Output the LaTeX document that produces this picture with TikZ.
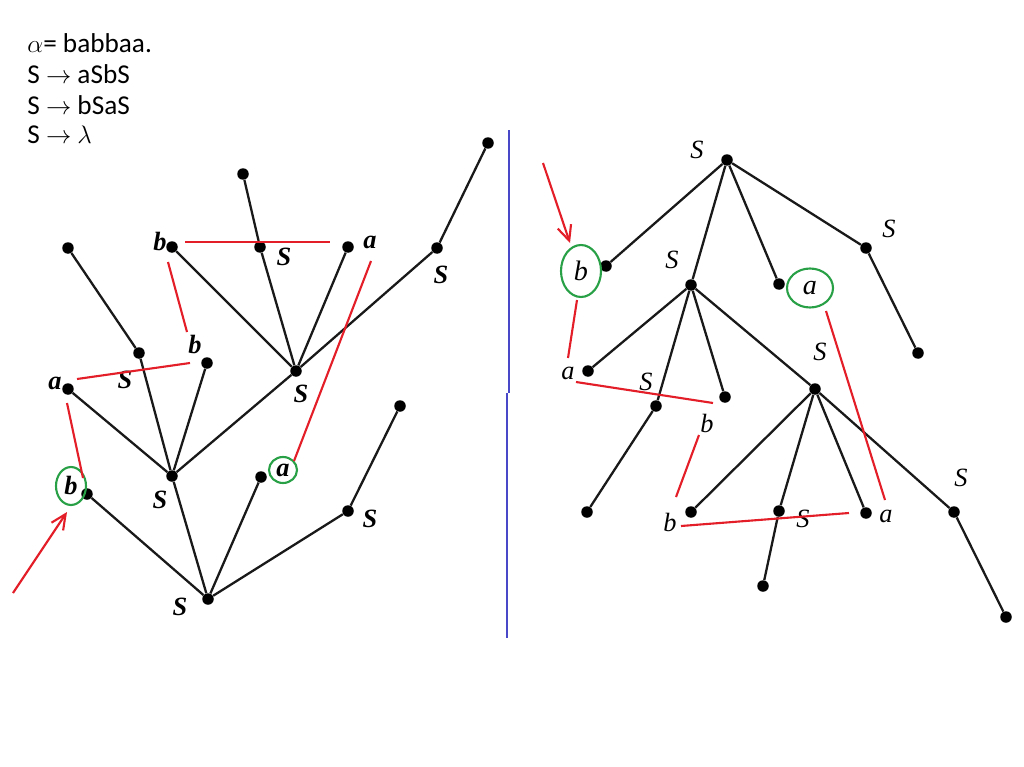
\documentclass[tikz,border=0pt]{standalone}
\usepackage{fontspec}
\setmainfont{Carlito}
\newfontfamily\tnr{Liberation Serif}
\usetikzlibrary{shapes.geometric,arrows.meta}
\definecolor{myred}{RGB}{228,30,40}
\definecolor{mygreen}{RGB}{40,160,70}
\definecolor{myblue}{RGB}{72,72,200}
\begin{document}
\begin{tikzpicture}[x=0.02cm,y=-0.02cm,
 dot/.style={circle,fill=black,inner sep=0,minimum size=0.23cm},
 blk/.style={line width=1.3pt,black!90},
 lb/.style={font=\fontsize{15}{15}\tnr\bfseries\itshape,inner sep=0},
 rl/.style={font=\fontsize{15}{15}\tnr\itshape,inner sep=0},
 redln/.style={draw=myred,line width=1.2pt},
 redarrow/.style={draw=myred,line width=1.2pt,-{Straight Barb[length=0.3cm,width=0.28cm]}},
 ring/.style={draw=mygreen,line width=1.2pt,ellipse,inner sep=0},
 txt/.style={anchor=base west,inner sep=0,font=\fontsize{15.5}{17}\selectfont}]
\useasboundingbox[fill=white] (0,0) rectangle (1024,767);

% header text
\node[txt] (t1) at (27,53) {$\alpha$= babbaa.};
\node[txt] (t2) at (27,84) {S $\rightarrow$ aSbS};
\node[txt] (t3) at (27,114) {S $\rightarrow$ bSaS};
\node[txt] (t4) at (27,143) {S $\rightarrow$ $\lambda$};

% separator
\coordinate (v1) at (509,130);
\coordinate (v2) at (509,393);
\coordinate (v3) at (507,393);
\coordinate (v4) at (507,638);
\draw[myblue,line width=1.6pt] (v1) -- (v2);
\draw[myblue,line width=1.6pt] (v3) -- (v4);

% ---------------- left tree ----------------
\node[dot] (L0) at (208,599) {};
\node[dot] (Lb) at (87,494) {};
\node[dot] (L1) at (172,476) {};
\node[dot] (La) at (261,477) {};
\node[dot] (L2) at (348,511) {};
\node[dot] (L2c) at (400,406) {};
\node[dot] (L11) at (68,389) {};
\node[dot] (L12) at (139,353) {};
\node[dot] (L13) at (207,363) {};
\node[dot] (L3) at (296,371) {};
\node[dot] (L12c) at (68,248) {};
\node[dot] (L31) at (172,247) {};
\node[dot] (L32) at (260,247) {};
\node[dot] (L33) at (348,247) {};
\node[dot] (L34) at (437,248) {};
\node[dot] (L32c) at (243,174) {};
\node[dot] (L34c) at (488,143) {};

\draw[blk] (L0) -- (Lb);
\draw[blk] (L0) -- (L1);
\draw[blk] (L0) -- (La);
\draw[blk] (L0) -- (L2);
\draw[blk] (L2) -- (L2c);
\draw[blk] (L1) -- (L11);
\draw[blk] (L1) -- (L12);
\draw[blk] (L1) -- (L13);
\draw[blk] (L1) -- (L3);
\draw[blk] (L12) -- (L12c);
\draw[blk] (L3) -- (L31);
\draw[blk] (L3) -- (L32);
\draw[blk] (L3) -- (L33);
\draw[blk] (L3) -- (L34);
\draw[blk] (L32) -- (L32c);
\draw[blk] (L34) -- (L34c);

\node[lb] (lS0) at (180,607) {S};
\node[lb,ring,minimum width=0.6cm,minimum height=0.76cm] (lbb) at (71,486) {b};
\node[lb] (lS1) at (160,500) {S};
\node[lb,ring,minimum width=0.56cm,minimum height=0.52cm] (laa) at (283,470) {a};
\node[lb] (lS2) at (370,519) {S};
\node[lb] (la1) at (55,383) {a};
\node[lb] (lS12) at (125,380) {S};
\node[lb] (lb13) at (195,345) {b};
\node[lb] (lS3) at (301,394) {S};
\node[lb] (lb31) at (160,242) {b};
\node[lb] (lS32) at (284,257) {S};
\node[lb] (la33) at (370,242) {a};
\node[lb] (lS34) at (441,275) {S};

% red annotations left
\coordinate (r1a) at (185,242); \coordinate (r1b) at (330,242);
\coordinate (r2a) at (168,262); \coordinate (r2b) at (187,332);
\coordinate (r3a) at (77,379);  \coordinate (r3b) at (190,363);
\coordinate (r4a) at (67,403);  \coordinate (r4b) at (83,478);
\coordinate (r5a) at (371,261); \coordinate (r5b) at (294,461);
\coordinate (r6a) at (13,593);  \coordinate (r6b) at (67,512);
\draw[redln] (r1a) -- (r1b);
\draw[redln] (r2a) -- (r2b);
\draw[redln] (r3a) -- (r3b);
\draw[redln] (r4a) -- (r4b);
\draw[redln] (r5a) -- (r5b);
\draw[redarrow] (r6a) -- (r6b);

% ---------------- right tree ----------------
\node[dot] (R0) at (727,160) {};
\node[dot] (Rb) at (606,266) {};
\node[dot] (R1) at (691,285) {};
\node[dot] (Ra) at (779,284) {};
\node[dot] (R2) at (866,248) {};
\node[dot] (R2c) at (918,353) {};
\node[dot] (R11) at (588,371) {};
\node[dot] (R12) at (656,406) {};
\node[dot] (R13) at (725,397) {};
\node[dot] (R3) at (815,389) {};
\node[dot] (R12c) at (587,512) {};
\node[dot] (R31) at (691,512) {};
\node[dot] (R32) at (779,511) {};
\node[dot] (R33) at (866,513) {};
\node[dot] (R34) at (954,512) {};
\node[dot] (R32c) at (763,586) {};
\node[dot] (R34c) at (1006,617) {};

\draw[blk] (R0) -- (Rb);
\draw[blk] (R0) -- (R1);
\draw[blk] (R0) -- (Ra);
\draw[blk] (R0) -- (R2);
\draw[blk] (R2) -- (R2c);
\draw[blk] (R1) -- (R11);
\draw[blk] (R1) -- (R12);
\draw[blk] (R1) -- (R13);
\draw[blk] (R1) -- (R3);
\draw[blk] (R12) -- (R12c);
\draw[blk] (R3) -- (R31);
\draw[blk] (R3) -- (R32);
\draw[blk] (R3) -- (R33);
\draw[blk] (R3) -- (R34);
\draw[blk] (R32) -- (R32c);
\draw[blk] (R34) -- (R34c);

\node[rl] (rS0) at (697,150) {S};
\node[rl,ring,font=\fontsize{16}{16}\tnr\itshape,minimum width=0.8cm,minimum height=1.04cm] (rbb) at (581,271) {b};
\node[rl] (rS1) at (672,260) {S};
\node[rl,ring,font=\fontsize{16}{16}\tnr\itshape,minimum width=0.92cm,minimum height=0.78cm] (raa) at (810,288) {a};
\node[rl] (rS2) at (889,229) {S};
\node[rl] (ra11) at (568,373) {a};
\node[rl] (rS12) at (646,382) {S};
\node[rl] (rb13) at (707,423) {b};
\node[rl] (rS3) at (820,352) {S};
\node[rl] (rb31) at (670,522) {b};
\node[rl] (rS32) at (803,519) {S};
\node[rl] (ra33) at (886,516) {a};
\node[rl] (rS34) at (961,478) {S};

% red annotations right
\coordinate (q1a) at (543,163); \coordinate (q1b) at (570,243);
\coordinate (q2a) at (577,300); \coordinate (q2b) at (568,358);
\coordinate (q3a) at (576,382); \coordinate (q3b) at (713,403);
\coordinate (q4a) at (699,435); \coordinate (q4b) at (676,497);
\coordinate (q5a) at (681,526); \coordinate (q5b) at (849,513);
\coordinate (q6a) at (826,311); \coordinate (q6b) at (885,500);
\draw[redarrow] (q1a) -- (q1b);
\draw[redln] (q2a) -- (q2b);
\draw[redln] (q3a) -- (q3b);
\draw[redln] (q4a) -- (q4b);
\draw[redln] (q5a) -- (q5b);
\draw[redln] (q6a) -- (q6b);
\end{tikzpicture}
\end{document}
